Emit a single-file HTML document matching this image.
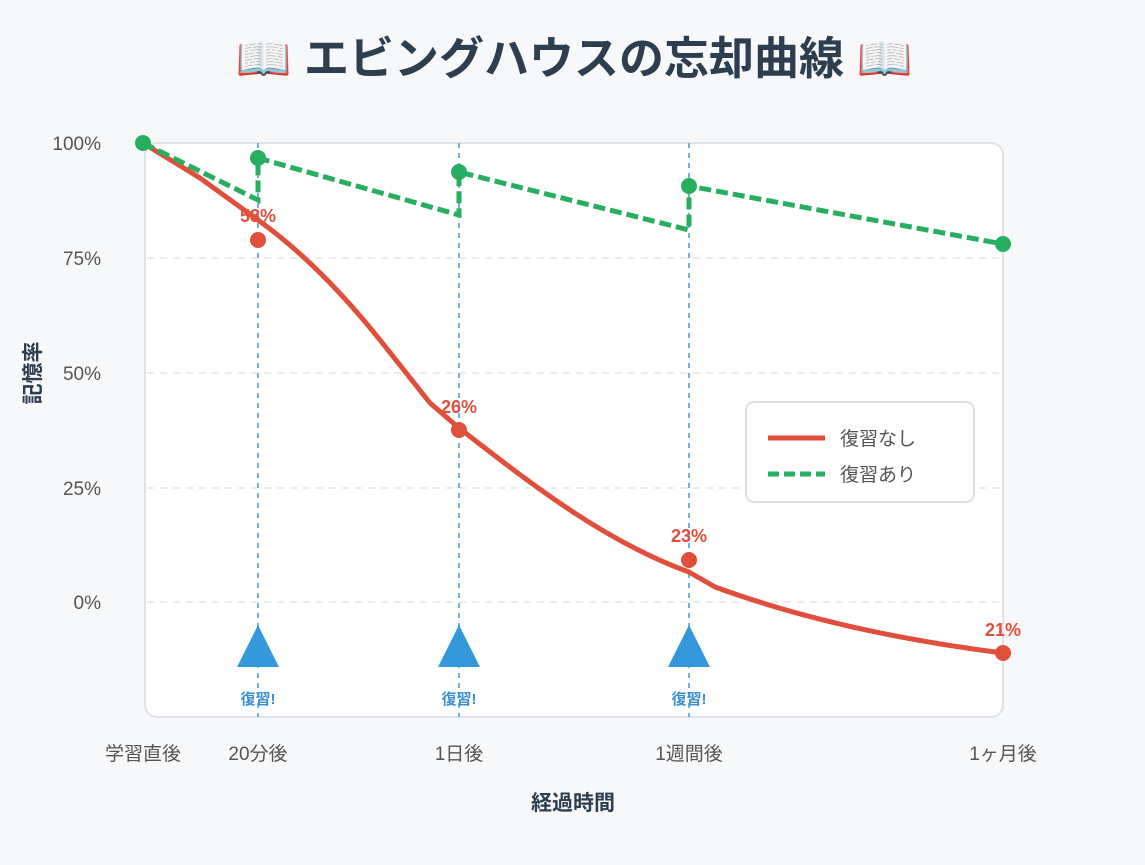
<!DOCTYPE html>
<html><head><meta charset="utf-8"><style>
body{margin:0;background:#f7f8fa;font-family:"Liberation Sans","Noto Sans CJK JP",sans-serif;}
</style></head><body>
<svg width="1145" height="860" xmlns="http://www.w3.org/2000/svg" font-family="Liberation Sans, Noto Sans CJK JP, sans-serif">
<rect width="1145" height="860" fill="#f7f8fa"/>
<text x="574" y="74" text-anchor="middle" font-size="45" font-weight="bold" fill="#2c3e50">📖 エビングハウスの忘却曲線 📖</text>
<rect x="145" y="143" width="858" height="574" rx="12" fill="#fff" stroke="#dfe3e8" stroke-width="2"/>
<g stroke="#e3e6ea" stroke-width="1.5" stroke-dasharray="7 6">
<line x1="147" y1="258" x2="1001" y2="258"/><line x1="147" y1="373" x2="1001" y2="373"/>
<line x1="147" y1="488" x2="1001" y2="488"/><line x1="147" y1="602" x2="1001" y2="602"/>
</g>
<g font-size="19" fill="#555" text-anchor="end">
<text x="101" y="150">100%</text><text x="101" y="265">75%</text><text x="101" y="380">50%</text><text x="101" y="495">25%</text><text x="101" y="609">0%</text>
</g>
<text transform="translate(40,373) rotate(-90)" text-anchor="middle" font-size="21" font-weight="bold" fill="#2c3e50">記憶率</text>
<g font-size="19" fill="#555" text-anchor="middle">
<text x="143" y="760">学習直後</text><text x="258" y="760">20分後</text><text x="459" y="760">1日後</text><text x="689" y="760">1週間後</text><text x="1003" y="760">1ヶ月後</text>
</g>
<text x="573" y="810" text-anchor="middle" font-size="21" font-weight="bold" fill="#2c3e50">経過時間</text>
<g stroke="#6fb3e0" stroke-width="2" stroke-dasharray="5 5">
<line x1="258" y1="143" x2="258" y2="717"/><line x1="459" y1="143" x2="459" y2="717"/><line x1="689" y1="143" x2="689" y2="717"/>
</g>
<g fill="#3498db">
<polygon points="258,625 237,667 279,667"/><polygon points="459,625 438,667 480,667"/><polygon points="689,625 668,667 710,667"/>
</g>
<g font-size="15" font-weight="bold" fill="#3a8fd0" text-anchor="middle">
<text x="258" y="704">復習!</text><text x="459" y="704">復習!</text><text x="689" y="704">復習!</text>
</g>
<path d="M143,143 L200,178 L258,220 C300,250 340,290 380,340 L430,403 L459,428 C520,475 600,540 689,572 L715,587 C800,618 900,640 1003,653" fill="none" stroke="#e04e3c" stroke-width="5" stroke-linejoin="round"/>
<path d="M143,143 L258,200 L258,158 L459,215 L459,172 L689,230 L689,186 L1003,244" fill="none" stroke="#27ae60" stroke-width="5" stroke-dasharray="12 5"/>
<g fill="#27ae60"><circle cx="143" cy="143" r="8"/><circle cx="258" cy="158" r="8"/><circle cx="459" cy="172" r="8"/><circle cx="689" cy="186" r="8"/><circle cx="1003" cy="244" r="8"/></g>
<g fill="#e04e3c"><circle cx="258" cy="240" r="8"/><circle cx="459" cy="430" r="8"/><circle cx="689" cy="560" r="8"/><circle cx="1003" cy="653" r="8"/></g>
<g font-size="18" font-weight="bold" fill="#e04e3c" text-anchor="middle">
<text x="258" y="222">58%</text><text x="459" y="413">26%</text><text x="689" y="542">23%</text><text x="1003" y="636">21%</text>
</g>
<rect x="746" y="402" width="228" height="100" rx="8" fill="#fff" stroke="#dcdfe3" stroke-width="2"/>
<line x1="768" y1="438" x2="825" y2="438" stroke="#e04e3c" stroke-width="5"/>
<line x1="768" y1="474" x2="825" y2="474" stroke="#27ae60" stroke-width="5" stroke-dasharray="11 5"/>
<g font-size="19" fill="#555"><text x="840" y="445">復習なし</text><text x="840" y="481">復習あり</text></g>
</svg>
</body></html>
